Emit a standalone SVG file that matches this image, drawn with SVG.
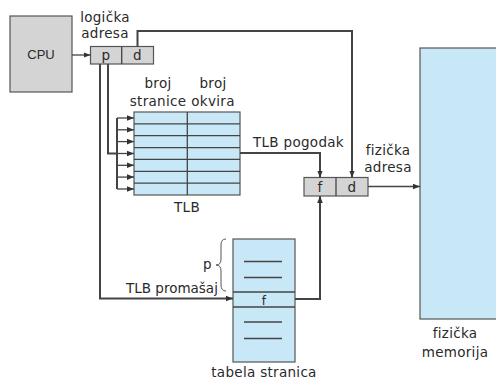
<svg xmlns="http://www.w3.org/2000/svg" width="496" height="380" viewBox="0 0 496 380">
<style>
text{font-family:"DejaVu Sans",sans-serif;font-size:13.5px;fill:#2a2a2a;letter-spacing:0.3px}
.m{text-anchor:middle}
.g{fill:#d4d4d4;stroke:#555;stroke-width:1.2}
.b{fill:#c8e8f8;stroke:#555;stroke-width:1.2}
.l{fill:none;stroke:#444;stroke-width:1.3}
.w{fill:none;stroke:#444;stroke-width:2}
</style>
<defs>
<marker id="a" viewBox="0 0 10 10" refX="10" refY="5" markerWidth="7" markerHeight="7" markerUnits="userSpaceOnUse" orient="auto">
<path d="M0,1 L10,5 L0,9 z" fill="#333"/>
</marker>
</defs>
<g id="cpu"><rect class="g" x="10" y="16" width="62" height="76" stroke="#777"/><text class="m" x="41" y="59" style="font-family:'Liberation Sans',sans-serif;font-size:13px;letter-spacing:0">CPU</text></g>
<g id="logicka"><text class="m" x="105" y="22">logička</text><text class="m" x="105" y="38">adresa</text>
<rect class="g" x="90.5" y="46.5" width="63" height="17.5"/><line class="l" x1="121.7" y1="46.5" x2="121.7" y2="64"/>
<text class="m" x="106" y="60">p</text><text class="m" x="137.5" y="60">d</text></g>
<g id="tlb">
<text class="m" x="158" y="88">broj</text><text class="m" x="158" y="106">stranice</text>
<text class="m" x="213" y="88">broj</text><text class="m" x="213" y="106">okvira</text>
<rect class="b" x="134" y="112" width="106" height="83"/>
<line class="l" x1="187.3" y1="112" x2="187.3" y2="195"/>
<path class="l" d="M134,123.9H240M134,135.7H240M134,147.6H240M134,159.4H240M134,171.3H240M134,183.1H240"/>
<text class="m" x="187" y="212">TLB</text></g>
<g id="tabela">
<rect class="b" x="233" y="239" width="62" height="123"/>
<path class="l" d="M233,292H295M233,307H295"/>
<path class="l" d="M244,261.5H282M244,277.5H282M244,322H282M244,338.5H282"/>
<text class="m" x="264" y="305" style="font-size:12px">f</text>
<text class="m" x="264" y="377">tabela stranica</text>
<path d="M226,239 Q221,239 221,245 L221,259 Q221,265 216,265 Q221,265 221,271 L221,285 Q221,291 226,291" fill="none" stroke="#555" stroke-width="1"/>
<text x="203" y="269">p</text></g>
<g id="fizicka-adresa">
<text class="m" x="388" y="155">fizička</text><text class="m" x="388" y="172">adresa</text>
<rect class="g" x="304" y="177.5" width="64" height="18.5"/><line class="l" x1="336" y1="177.5" x2="336" y2="196"/>
<text class="m" x="320" y="192">f</text><text class="m" x="352" y="192">d</text></g>
<g id="memorija">
<rect class="b" x="420" y="48" width="80" height="271"/>
<text class="m" x="455" y="338">fizička</text><text class="m" x="455" y="357">memorija</text></g>
<g id="connectors">
<line class="l" x1="72" y1="55" x2="90.5" y2="55" marker-end="url(#a)"/>
<path class="w" d="M137.5,46.5V31H352V177.5" marker-end="url(#a)"/>
<path class="w" d="M100,64V298.5H233" marker-end="url(#a)"/>
<path class="w" d="M108,64V153.5H117"/>
<path class="w" d="M117,118V189"/>
<line class="l" x1="117" y1="118" x2="134" y2="118" marker-end="url(#a)"/>
<line class="l" x1="117" y1="129.8" x2="134" y2="129.8" marker-end="url(#a)"/>
<line class="l" x1="117" y1="141.6" x2="134" y2="141.6" marker-end="url(#a)"/>
<line class="l" x1="117" y1="153.5" x2="134" y2="153.5" marker-end="url(#a)"/>
<line class="l" x1="117" y1="165.3" x2="134" y2="165.3" marker-end="url(#a)"/>
<line class="l" x1="117" y1="177.1" x2="134" y2="177.1" marker-end="url(#a)"/>
<line class="l" x1="117" y1="189" x2="134" y2="189" marker-end="url(#a)"/>
<path class="w" d="M240,153H320V177.5" marker-end="url(#a)"/>
<path class="w" d="M295,299H320V196" marker-end="url(#a)"/>
<line class="l" x1="368" y1="186.5" x2="420" y2="186.5" marker-end="url(#a)"/>
<text x="253" y="147">TLB pogodak</text>
<text x="126" y="293" style="letter-spacing:0">TLB promašaj</text>
</g>
</svg>
